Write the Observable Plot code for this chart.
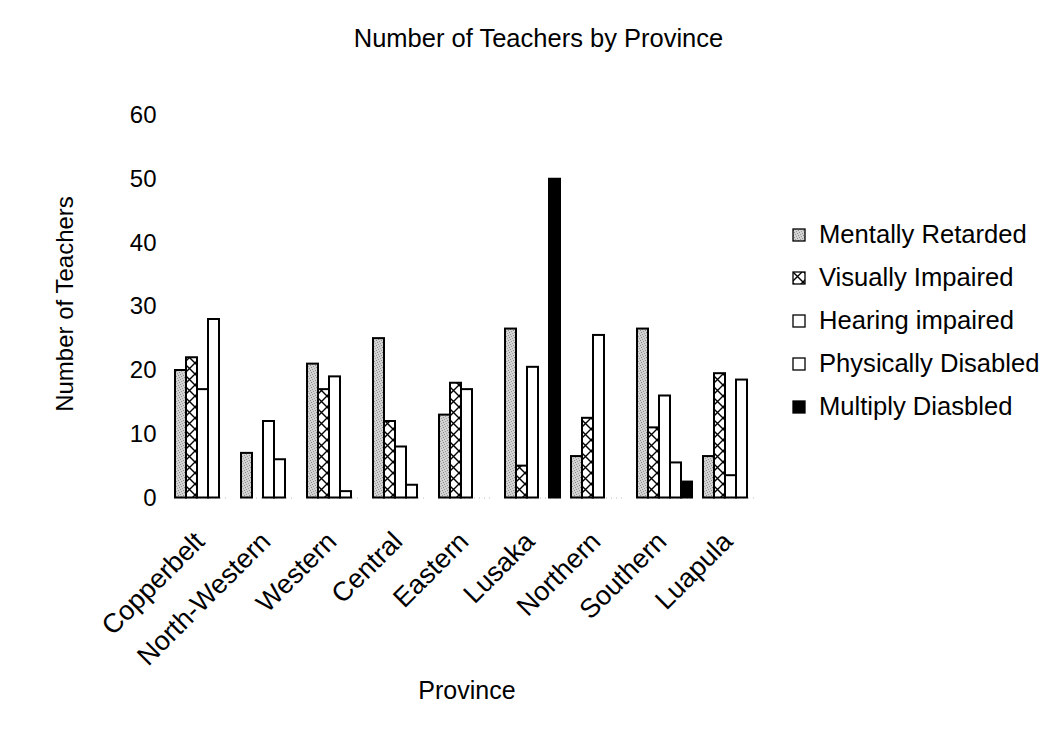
<!DOCTYPE html>
<html>
<head>
<meta charset="utf-8">
<script src="https://cdn.jsdelivr.net/npm/d3@7"></script>
<script src="https://cdn.jsdelivr.net/npm/@observablehq/plot@0.6"></script>
<style>
  html, body { margin: 0; padding: 0; background: #fff; }
  #wrap { position: relative; width: 1060px; height: 729px; font-family: "Liberation Sans", Arial, sans-serif; color: #000; }
  .abs { position: absolute; white-space: nowrap; line-height: 1; }
  #title { left: 0; width: 1077px; text-align: center; top: 26px; font-size: 25.5px; }
  #ylabel { left: 65px; top: 304px; font-size: 24px; transform: translate(-50%, -50%) rotate(-90deg); }
  #xlabel { left: 467px; top: 690px; font-size: 25px; transform: translate(-50%, -50%); }
  #legend { left: 792px; top: 213px; font-size: 25.6px; }
  .row { display: flex; align-items: center; height: 43px; }
  .row svg { margin-right: 13px; }
</style>
</head>
<body>
<div id="wrap">
  <div id="chart"></div>
  <div id="title" class="abs">Number of Teachers by Province</div>
  <div id="ylabel" class="abs">Number of Teachers</div>
  <div id="xlabel" class="abs">Province</div>
  <div id="legend" class="abs"></div>
</div>
<script>
const provinces = ["Copperbelt", "North-Western", "Western", "Central", "Eastern", "Lusaka", "Northern", "Southern", "Luapula"];
const series = ["Mentally Retarded", "Visually Impaired", "Hearing impaired", "Physically Disabled", "Multiply Diasbled"];
const mentallyRetarded   = [20, 7, 21, 25, 13, 26.5, 6.5, 26.5, 6.5];
const visuallyImpaired   = [22, 0, 17, 12, 18, 5, 12.5, 11, 19.5];
const hearingImpaired    = [17, 12, 19, 8, 17, 20.5, 25.5, 16, 3.5];
const physicallyDisabled = [28, 6, 1, 2, 0, 0, 0, 5.5, 18.5];
const multiplyDisabled   = [0, 0, 0, 0, 0, 50, 0, 2.5, 0];
const yTicks = [0, 10, 20, 30, 40, 50, 60];

const fills = ["url(#patMR)", "url(#patVI)", "white", "white", "black"];
const seriesValues = [mentallyRetarded, visuallyImpaired, hearingImpaired, physicallyDisabled, multiplyDisabled];

const data = [];
provinces.forEach((p, i) => {
  series.forEach((s, j) => {
    data.push({province: p, series: s, value: seriesValues[j][i]});
  });
});

const chart = Plot.plot({
  width: 1060,
  height: 729,
  marginLeft: 167,
  marginRight: 294,
  marginTop: 115,
  marginBottom: 231.5,
  style: {fontFamily: "Liberation Sans, Arial, sans-serif", fontSize: "24px", color: "#000", background: "white", overflow: "visible"},
  fx: {domain: provinces, paddingInner: 0.17, paddingOuter: 0.085, label: null, axis: null},
  x: {domain: series, axis: null, paddingInner: 0, paddingOuter: 0},
  y: {domain: [0, 60], ticks: yTicks, tickSize: 0, tickPadding: 19, label: null, grid: false},
  color: {type: "ordinal", domain: series, range: fills},
  marks: [
    Plot.ruleY([0], {stroke: "#bbb", strokeDasharray: "1,4"}),
    Plot.barY(data.filter(d => d.value > 0), {
      fx: "province", x: "series", y: "value", fill: "series",
      stroke: "black", strokeWidth: 2
    }),
    Plot.text(provinces, {
      fx: d => d, text: d => d, frameAnchor: "bottom",
      rotate: -45, textAnchor: "end", lineAnchor: "middle",
      dx: -3, dy: 39, fontSize: 27, fill: "black"
    })
  ]
});

const defs = d3.select(chart).insert("defs", ":first-child");
defs.html(`
  <pattern id="patMR" patternUnits="userSpaceOnUse" width="5" height="5">
    <rect width="5" height="5" fill="#d2d2d2"/>
    <rect x="0" y="0" width="1" height="1" fill="#8c8c8c"/>
    <rect x="3" y="1" width="1" height="1" fill="#9a9a9a"/>
    <rect x="1" y="2" width="1" height="1" fill="#888"/>
    <rect x="4" y="3" width="1" height="1" fill="#a0a0a0"/>
    <rect x="2" y="4" width="1" height="1" fill="#929292"/>
  </pattern>
  <pattern id="patVI" patternUnits="userSpaceOnUse" width="11" height="11">
    <rect width="11" height="11" fill="white"/>
    <path d="M0,0L11,11M11,0L0,11" stroke="black" stroke-width="1.4"/>
  </pattern>
`);
document.getElementById("chart").appendChild(chart);

const legend = d3.select("#legend");
series.forEach((s, j) => {
  const row = legend.append("div").attr("class", "row");
  const sw = row.append("svg").attr("width", 14).attr("height", 14);
  sw.append("rect").attr("x", 1).attr("y", 1).attr("width", 12).attr("height", 12)
    .attr("fill", fills[j]).attr("stroke", "black").attr("stroke-width", 1.3);
  row.append("span").text(s);
});
</script>
</body>
</html>
